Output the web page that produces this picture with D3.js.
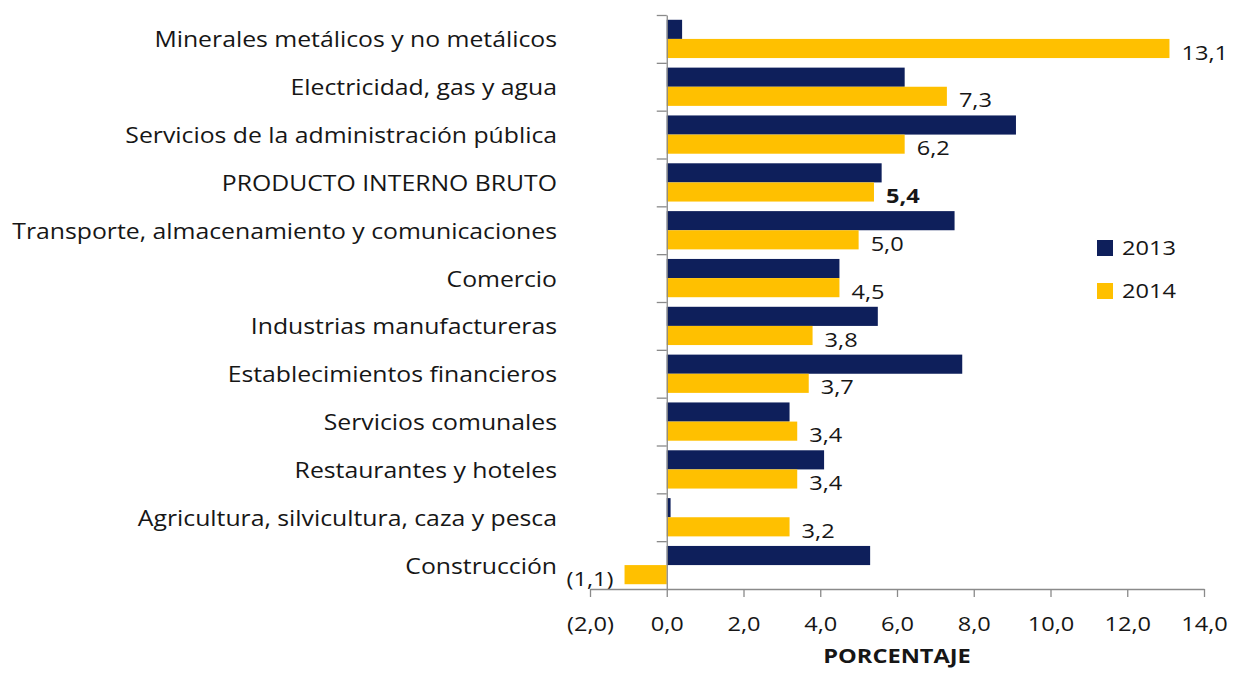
<!DOCTYPE html>
<html>
<head>
<meta charset="utf-8">
<script src="https://cdn.jsdelivr.net/npm/d3@7/dist/d3.min.js"></script>
<style>
  html, body { margin: 0; padding: 0; background: #ffffff; }
  svg { display: block; }
  text { font-family: "Open Sans", Lato, sans-serif; fill: #161616; }
</style>
</head>
<body>
<svg id="chart" width="1237" height="673"></svg>
<script>
const categories = [
  "Minerales metálicos y no metálicos",
  "Electricidad, gas y agua",
  "Servicios de la administración pública",
  "PRODUCTO INTERNO BRUTO",
  "Transporte, almacenamiento y comunicaciones",
  "Comercio",
  "Industrias manufactureras",
  "Establecimientos financieros",
  "Servicios comunales",
  "Restaurantes y hoteles",
  "Agricultura, silvicultura, caza y pesca",
  "Construcción"
];
const seriesNames = ["2013", "2014"];
const values2013 = [0.4, 6.2, 9.1, 5.6, 7.5, 4.5, 5.5, 7.7, 3.2, 4.1, 0.1, 5.3];
const values2014 = [13.1, 7.3, 6.2, 5.4, 5.0, 4.5, 3.8, 3.7, 3.4, 3.4, 3.2, -1.1];
const xTicks = [-2, 0, 2, 4, 6, 8, 10, 12, 14];
const axisTitle = "PORCENTAJE";
const boldCategory = "PRODUCTO INTERNO BRUTO";

const colors = { "2013": "#0e1f5b", "2014": "#ffc000" };
const FS = 21;
const svg = d3.select("#chart");

// horizontal stretch factor so the longest label spans the same width as in the reference
const probe = svg.append("text").style("font-size", FS + "px").text(categories[4]);
const K = 545 / probe.node().getComputedTextLength();
probe.remove();

function addText(x, y, str, opts = {}) {
  const g = svg.append("g").attr("transform", `translate(${x},${y}) scale(${K},1)`);
  return g.append("text")
    .attr("text-anchor", opts.anchor || "start")
    .attr("dy", opts.dy || "0")
    .style("font-size", (opts.size || FS) + "px")
    .style("font-weight", opts.weight || "normal")
    .text(str);
}

const x = d3.scaleLinear().domain([-2, 14]).range([590, 1204]);
const y = d3.scaleBand().domain(categories).range([15, 589]).padding(0);
const sub = d3.scaleBand().domain(seriesNames).range([0, y.bandwidth()]).paddingInner(0).paddingOuter(0.25);

const fmt = v => {
  const s = Math.abs(v).toFixed(1).replace(".", ",");
  return v < 0 ? "(" + s + ")" : s;
};

const rows = categories.map((c, i) => ({ cat: c, "2013": values2013[i], "2014": values2014[i] }));

// bars
const g = svg.append("g");
rows.forEach(r => {
  seriesNames.forEach(s => {
    const v = r[s];
    g.append("rect")
      .attr("x", x(Math.min(0, v)))
      .attr("y", y(r.cat) + sub(s))
      .attr("width", Math.abs(x(v) - x(0)))
      .attr("height", sub.bandwidth())
      .attr("fill", colors[s]);
  });
});

// data labels for 2014
rows.forEach(r => {
  const v = r["2014"];
  const yb = y(r.cat) + sub("2014") + sub.bandwidth() + 1.5;
  addText(v >= 0 ? x(v) + 12 : x(v) - 11, yb, fmt(v), {
    anchor: v >= 0 ? "start" : "end",
    weight: r.cat === boldCategory ? "bold" : "normal",
    size: 20
  });
});

// category labels
categories.forEach(c => {
  addText(557, y(c) + y.bandwidth() / 2 + 1, c, { anchor: "end", dy: "0.36em" });
});

// y axis (category boundaries) at x = 0
const yIdx = d3.scaleLinear().domain([0, categories.length]).range([15, 589]);
const yAxis = svg.append("g")
  .attr("transform", `translate(${x(0)},0)`)
  .call(d3.axisLeft(yIdx).tickValues(d3.range(0, categories.length)).tickFormat("").tickSize(10).tickSizeOuter(0));
yAxis.selectAll("path, line").attr("stroke", "#8a8a8a").attr("stroke-width", 1.3);

// x axis
const xAxis = svg.append("g")
  .attr("transform", "translate(0,589)")
  .call(d3.axisBottom(x).tickValues(xTicks).tickFormat(fmt).tickSize(8).tickSizeOuter(0).tickPadding(20));
xAxis.selectAll("path, line").attr("stroke", "#8a8a8a").attr("stroke-width", 1.3);
xAxis.selectAll("text")
  .attr("transform", `scale(${K},1)`)
  .style("font-size", "20px").style("fill", "#161616").style("font-family", "'Open Sans', Lato, sans-serif");

addText((x(-2) + x(14)) / 2, 663, axisTitle, { anchor: "middle", weight: "bold", size: 20 });

// legend
seriesNames.forEach((s, i) => {
  const ly = 248 + i * 43;
  svg.append("rect").attr("x", 1097).attr("y", ly - 8).attr("width", 16).attr("height", 16).attr("fill", colors[s]);
  addText(1122, ly, s, { dy: "0.36em", size: 20 });
});
</script>
</body>
</html>
